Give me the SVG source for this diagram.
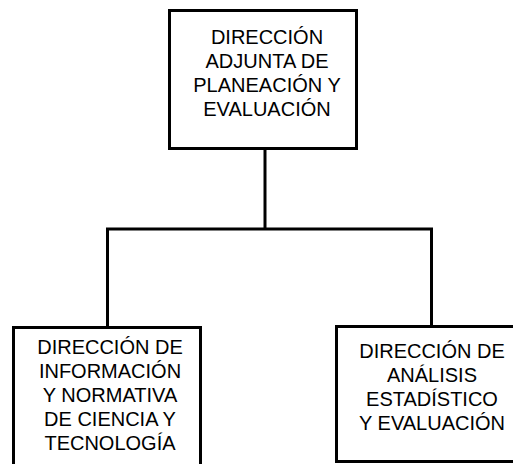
<svg xmlns="http://www.w3.org/2000/svg" width="513" height="464" viewBox="0 0 513 464">
<style>
.box{fill:#fff;stroke:#000;stroke-width:3}
.conn{fill:none;stroke:#000;stroke-width:3}
text{font-family:"Liberation Sans",Arial,sans-serif;font-size:20px;fill:#000;text-anchor:middle}
</style>
<rect width="513" height="464" fill="#fff"/>
<g id="connectors">
<line class="conn" x1="265" y1="148" x2="265" y2="229"/>
<polyline class="conn" points="107.5,327 107.5,229 431.5,229 431.5,326"/>
</g>
<g id="n-top">
<rect class="box" x="169.5" y="10.5" width="187" height="138"/>
<text x="267" y="43.5">DIRECCIÓN</text>
<text x="267" y="67.5">ADJUNTA DE</text>
<text x="267" y="91.5">PLANEACIÓN Y</text>
<text x="267" y="115.5">EVALUACIÓN</text>
</g>
<g id="n-left">
<rect class="box" x="13.5" y="327.5" width="187" height="150"/>
<text x="110" y="354">DIRECCIÓN DE</text>
<text x="110" y="378">INFORMACIÓN</text>
<text x="110" y="402">Y NORMATIVA</text>
<text x="110" y="426">DE CIENCIA Y</text>
<text x="110" y="450">TECNOLOGÍA</text>
</g>
<g id="n-right">
<rect class="box" x="336.5" y="326.5" width="192" height="135"/>
<text x="432" y="358">DIRECCIÓN DE</text>
<text x="432" y="382">ANÁLISIS</text>
<text x="432" y="406">ESTADÍSTICO</text>
<text x="432" y="430">Y EVALUACIÓN</text>
</g>
</svg>
